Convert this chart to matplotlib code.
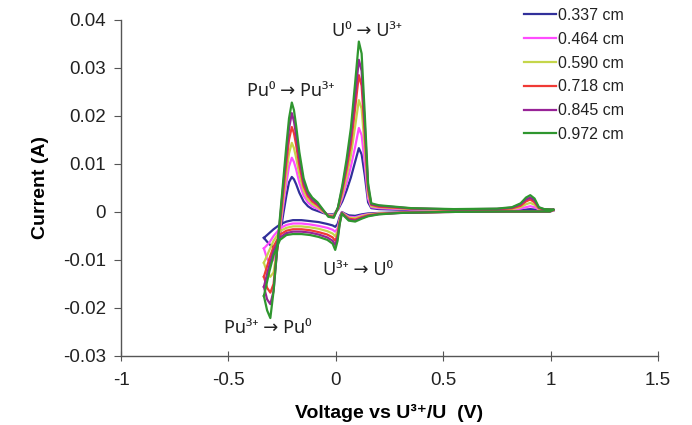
import numpy as np
import matplotlib
matplotlib.use("Agg")
import matplotlib.pyplot as plt

# electrode immersion depths (legend)
labels = ["0.337 cm", "0.464 cm", "0.590 cm", "0.718 cm", "0.845 cm", "0.972 cm"]
colours = ["#31309a", "#ff4cff", "#c5d64a", "#f03a35", "#982397", "#2f962f"]

# forward sweep potentials (V) and currents (mA)
v_fwd = [-0.335, -0.32, -0.305, -0.29, -0.275, -0.26, -0.245, -0.23, -0.218, -0.205,
         -0.195, -0.185, -0.17, -0.15, -0.13, -0.11, -0.085, -0.06, -0.035, -0.01,
         0.01, 0.03, 0.05, 0.07, 0.09, 0.107, 0.12, 0.135, 0.15, 0.165,
         0.20, 0.35, 0.55, 0.75, 0.82, 0.86, 0.885, 0.905, 0.925, 0.945, 0.97, 1.015]

i_fwd_337 = [-5.4, -6.2, -6.9, -7.4, -7.5, -4.8, -0.5, 3.5, 6.2, 7.3,
             6.8, 5.8, 4.0, 2.2, 1.2, 0.6, 0.2, -0.2, -0.5, -0.5,
             0.5, 2.2, 4.5, 7.2, 10.5, 13.3, 12.0, 7.5, 2.0, 0.8,
             0.6, 0.4, 0.3, 0.3, 0.3, 0.4, 0.5, 0.6, 0.5, 0.4, 0.3, 0.3]
i_fwd_464 = [-7.6, -9.8, -10.5, -10.0, -7.9, -3.9, 1.3, 6.1, 9.5, 11.3,
             10.4, 8.9, 6.1, 3.4, 2.0, 1.2, 0.65, 0.0, -0.6, -0.7,
             0.6, 2.9, 6.0, 9.5, 13.6, 17.5, 16.0, 9.9, 2.8, 1.0,
             0.8, 0.5, 0.4, 0.4, 0.45, 0.7, 1.0, 1.2, 1.0, 0.5, 0.4, 0.35]
i_fwd_590 = [-10.6, -12.6, -13.5, -12.6, -8.3, -3.1, 2.7, 8.2, 12.2, 14.4,
             13.3, 11.3, 7.8, 4.4, 2.6, 1.7, 1.0, 0.1, -0.7, -0.8,
             0.7, 3.6, 7.4, 11.8, 17.9, 23.3, 21.5, 13.1, 3.8, 1.2,
             1.0, 0.6, 0.45, 0.5, 0.6, 1.0, 1.6, 1.9, 1.5, 0.65, 0.45, 0.4]
i_fwd_718 = [-13.5, -15.8, -16.8, -15.0, -8.6, -2.3, 4.2, 10.5, 15.1, 17.7,
             16.4, 14.0, 9.7, 5.4, 3.3, 2.2, 1.4, 0.3, -0.8, -1.0,
             0.8, 4.4, 8.9, 14.1, 21.7, 28.5, 26.3, 16.0, 4.7, 1.5,
             1.1, 0.7, 0.5, 0.55, 0.75, 1.3, 2.2, 2.6, 2.0, 0.8, 0.5, 0.45]
i_fwd_845 = [-15.6, -18.2, -19.2, -16.5, -8.7, -1.6, 5.4, 12.3, 17.4, 20.6,
             18.9, 16.0, 11.1, 6.2, 3.8, 2.6, 1.7, 0.4, -0.9, -1.1,
             0.9, 5.0, 10.0, 15.9, 24.2, 31.7, 29.4, 17.9, 5.3, 1.6,
             1.3, 0.75, 0.55, 0.65, 0.9, 1.6, 2.6, 3.0, 2.4, 0.9, 0.55, 0.5]
i_fwd_972 = [-17.5, -20.5, -22.1, -16.5, -8.5, -1.0, 6.5, 14.0, 19.5, 22.8,
             21.2, 18.0, 12.5, 7.0, 4.3, 3.0, 2.0, 0.5, -1.0, -1.2,
             1.0, 5.5, 11.0, 17.5, 27.0, 35.5, 33.0, 20.0, 6.0, 1.8,
             1.4, 0.8, 0.6, 0.7, 1.0, 1.8, 3.0, 3.5, 2.8, 1.0, 0.6, 0.5]

# reverse sweep potentials (V) and currents (mA)
v_rev = [1.015, 0.995, 0.80, 0.50, 0.30, 0.20, 0.15, 0.12, 0.09, 0.06,
         0.04, 0.028, 0.018, 0.008, -0.003, -0.015, -0.04, -0.08, -0.12, -0.16,
         -0.20, -0.23, -0.26, -0.29, -0.31, -0.335]

i_rev_337 = [0.3, 0.1, 0.1, 0.0, -0.1, -0.2, -0.3, -0.5, -0.8, -0.7,
             -0.3, 0.0, -1.0, -2.5, -3.1, -2.8, -2.5, -2.1, -1.9, -1.7,
             -1.7, -2.0, -2.6, -3.6, -4.4, -5.4]
i_rev_464 = [0.35, 0.1, 0.1, 0.0, -0.1, -0.3, -0.45, -0.7, -1.1, -1.0,
             -0.45, -0.1, -1.4, -3.4, -4.1, -3.7, -3.3, -2.9, -2.6, -2.4,
             -2.4, -2.7, -3.4, -5.0, -6.4, -7.6]
i_rev_590 = [0.4, 0.1, 0.1, 0.0, -0.15, -0.3, -0.55, -0.9, -1.3, -1.2,
             -0.55, -0.15, -1.7, -4.1, -5.0, -4.5, -4.0, -3.5, -3.2, -3.0,
             -3.0, -3.3, -4.0, -6.0, -8.0, -10.6]
i_rev_718 = [0.45, 0.1, 0.1, 0.0, -0.15, -0.4, -0.7, -1.1, -1.6, -1.4,
             -0.7, -0.2, -2.0, -4.8, -6.0, -5.3, -4.7, -4.2, -3.8, -3.6,
             -3.6, -3.9, -4.7, -7.2, -9.8, -13.5]
i_rev_845 = [0.5, 0.1, 0.1, 0.0, -0.2, -0.45, -0.8, -1.25, -1.8, -1.6,
             -0.8, -0.25, -2.3, -5.4, -6.9, -6.0, -5.3, -4.7, -4.3, -4.1,
             -4.1, -4.4, -5.3, -8.1, -11.2, -15.6]
i_rev_972 = [0.5, 0.1, 0.1, 0.0, -0.2, -0.5, -0.9, -1.4, -2.0, -1.8,
             -0.9, -0.3, -2.5, -6.0, -7.9, -6.6, -5.8, -5.2, -4.8, -4.6,
             -4.6, -4.8, -5.8, -9.0, -12.5, -17.5]

fwd = [i_fwd_337, i_fwd_464, i_fwd_590, i_fwd_718, i_fwd_845, i_fwd_972]
rev = [i_rev_337, i_rev_464, i_rev_590, i_rev_718, i_rev_845, i_rev_972]

fig = plt.figure(figsize=(6.92, 4.25), dpi=100)
ax = fig.add_axes([0.1749, 0.1624, 0.7761, 0.7906])

v_all = np.concatenate([v_fwd, v_rev[1:]])
for f, r, lab, col in zip(fwd, rev, labels, colours):
    cur = np.concatenate([f, r[1:]]) * 1e-3
    ax.plot(v_all, cur, color=col, lw=1.6, label=lab, solid_joinstyle="round")

ax.set_xlim(-1, 1.5)
ax.set_ylim(-0.03, 0.04)
ax.set_xticks([-1, -0.5, 0, 0.5, 1, 1.5])
ax.set_xticklabels(["-1", "-0.5", "0", "0.5", "1", "1.5"])
ax.set_yticks(np.arange(-0.03, 0.041, 0.01))
ax.set_yticklabels(["-0.03", "-0.02", "-0.01", "0", "0.01", "0.02", "0.03", "0.04"])

for s in ["top", "right"]:
    ax.spines[s].set_visible(False)
for s in ["left", "bottom"]:
    ax.spines[s].set_color("#555555")
    ax.spines[s].set_linewidth(1.0)

sans = ["Liberation Sans", "DejaVu Sans"]
ax.tick_params(axis="y", direction="out", length=5, color="#555555",
               labelcolor="#222222", pad=6)
ax.tick_params(axis="x", direction="inout", length=7, color="#555555",
               labelcolor="#222222", pad=8)
for lbl in ax.get_xticklabels() + ax.get_yticklabels():
    lbl.set_fontfamily(sans)
    lbl.set_fontsize(13.5)

ax.set_xlabel("Voltage vs U³⁺/U  (V)", fontsize=14, fontweight="bold",
              family=sans, labelpad=11)
ax.set_ylabel("Current (A)", fontsize=14, fontweight="bold",
              family=sans, labelpad=10)

ann_font = ["Noto Sans", "DejaVu Sans"]
ax.text(0.145, 0.0376, "U⁰ → U³⁺", ha="center", va="center",
        fontsize=13, family=ann_font, color="#222222")
ax.text(-0.212, 0.0251, "Pu⁰ → Pu³⁺", ha="center", va="center",
        fontsize=13, family=ann_font, color="#222222")
ax.text(0.105, -0.0121, "U³⁺ → U⁰", ha="center", va="center",
        fontsize=13, family=ann_font, color="#222222")
ax.text(-0.315, -0.0241, "Pu³⁺ → Pu⁰", ha="center", va="center",
        fontsize=13, family=ann_font, color="#222222")

leg = fig.legend(loc="upper left", bbox_to_anchor=(0.757, 0.981), frameon=False,
                 borderpad=0, borderaxespad=0, handlelength=2.0, labelspacing=0.55,
                 handletextpad=0.15, prop={"family": sans, "size": 11.5})
for t in leg.get_texts():
    t.set_color("#222222")

fig.savefig("out.png", dpi=100)
